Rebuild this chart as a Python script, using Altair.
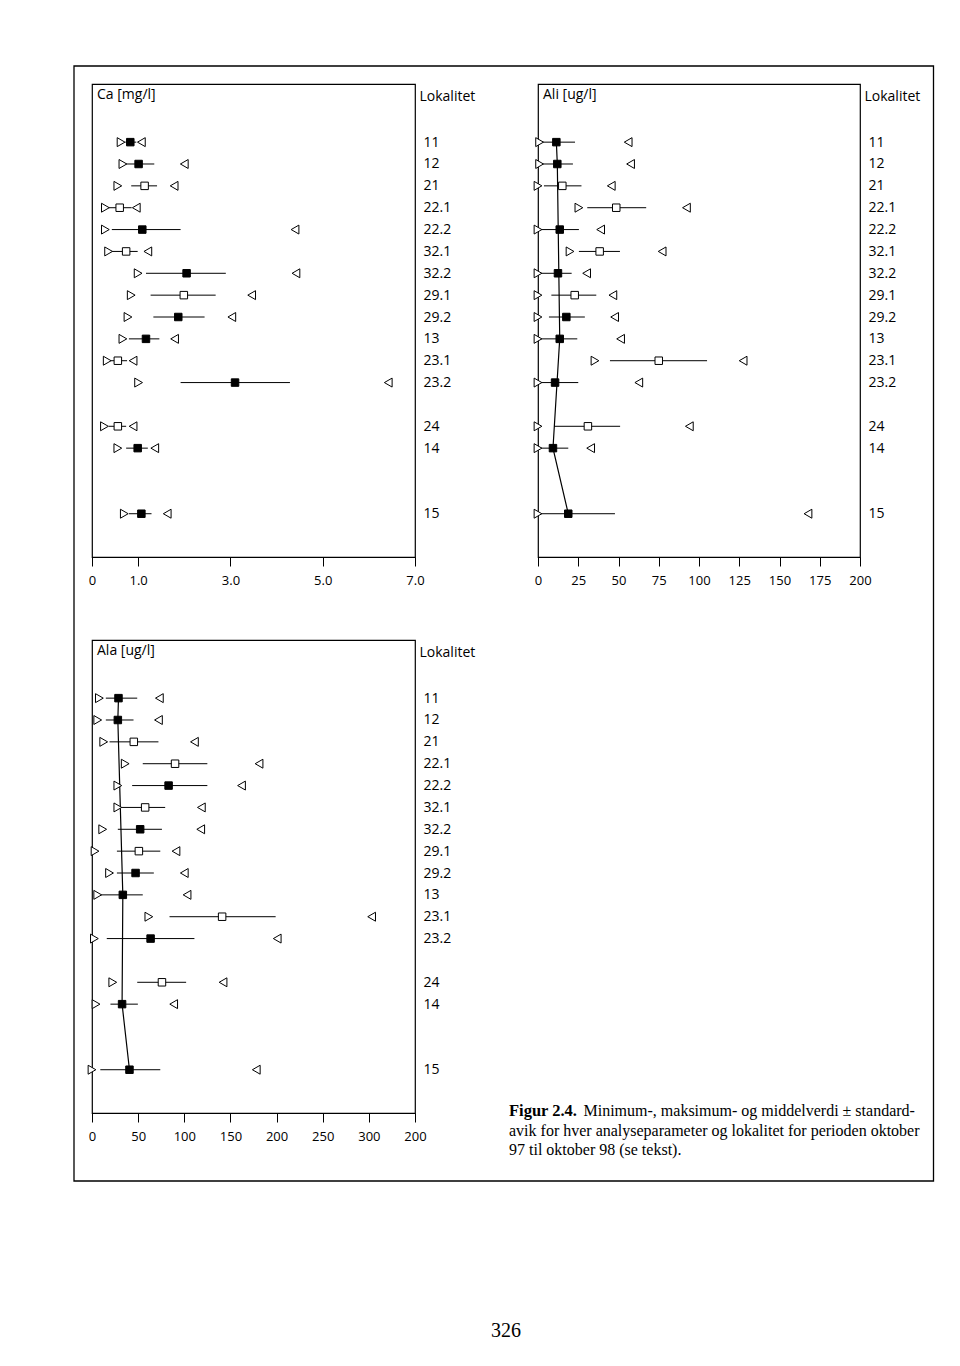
import altair as alt
import pandas as pd

# ---------------- data ----------------
localities = ['11', '12', '21', '22.1', '22.2', '32.1', '32.2', '29.1', '29.2',
              '13', '23.1', '23.2', '24', '14', '15']
row_pos = [0, 1, 2, 3, 4, 5, 6, 7, 8, 9, 10, 11, 13, 14, 17]
open_mean = ['21', '22.1', '32.1', '29.1', '23.1', '24']
main_stations = ['11', '12', '13', '14', '15']

# Ca [mg/l]
ca_min = [0.63, 0.67, 0.56, 0.29, 0.29, 0.36, 1.00, 0.85, 0.78, 0.67, 0.33, 1.01, 0.27, 0.56, 0.70]
ca_mean = [0.83, 1.01, 1.14, 0.60, 1.09, 0.74, 2.05, 1.99, 1.87, 1.17, 0.56, 3.10, 0.56, 0.99, 1.07]
ca_lo = [0.72, 0.70, 0.85, 0.36, 0.43, 0.40, 1.17, 1.27, 1.33, 0.80, 0.40, 1.92, 0.36, 0.74, 0.80]
ca_hi = [0.96, 1.35, 1.41, 0.86, 1.92, 0.99, 2.90, 2.68, 2.44, 1.46, 0.76, 4.29, 0.74, 1.21, 1.29]
ca_max = [1.07, 2.00, 1.78, 0.96, 4.40, 1.21, 4.42, 3.46, 3.03, 1.79, 0.89, 6.42, 0.89, 1.36, 1.63]
ca_ticks = [0, 1, 3, 5, 7]
ca_tick_labels = ['0', '1.0', '3.0', '5.0', '7.0']

# Ali [ug/l]
ali_min = [1, 1, 0, 25.4, 0, 19.9, 0, 0, 0, 0, 35.4, 0, 0, 0, 0]
ali_mean = [11.4, 12, 15.1, 48.6, 13.5, 38.3, 12.4, 22.8, 17.6, 13.5, 75, 10.6, 31, 9.3, 18.8]
ali_lo = [1, 1, 3.7, 30.6, 0, 25.4, 1, 8.3, 6.8, 0, 44.7, 1.7, 10, 1.7, 0.6]
ali_hi = [23, 21.7, 27, 67.2, 25.4, 50.9, 20.9, 36.2, 29.1, 24.4, 105, 25, 51, 18.8, 47.8]
ali_max = [56, 57.5, 45.5, 92.2, 38.9, 77.1, 30.2, 46.5, 47.6, 51.3, 127.4, 62.6, 94, 32.7, 167.7]
ali_ticks = [0, 25, 50, 75, 100, 125, 150, 175, 200]
ali_tick_labels = ['0', '25', '50', '75', '100', '125', '150', '175', '200']

# Ala [ug/l]
ala_min = [8, 6.2, 12.7, 36, 28, 28, 11.6, 3.3, 19, 6.2, 61.6, 2.6, 22.5, 4.4, 0]
ala_mean = [28.7, 28, 45.3, 90, 83, 57.6, 52.2, 50.8, 47.2, 33.4, 141, 63.5, 75.8, 32.6, 40.6]
ala_lo = [15, 15, 19, 55, 43.5, 31.5, 28, 27, 27, 9.8, 84, 16, 49, 20, 9]
ala_hi = [49, 45, 72, 125, 125, 79.3, 75.8, 74, 67, 55, 199, 111, 102, 49.7, 74]
ala_max = [73, 72, 111, 181, 162, 118.5, 117.8, 91, 100, 103, 303, 200.7, 142, 88.5, 178]
ala_ticks = [0, 50, 100, 150, 200, 250, 300, 350]
ala_tick_labels = ['0', '50', '100', '150', '200', '250', '300', '200']

caption_bold = 'Figur 2.4.'
caption_line1 = 'Minimum-, maksimum- og middelverdi ± standard-'
caption_line2 = 'avik for hver analyseparameter og lokalitet for perioden oktober'
caption_line3 = '97 til oktober 98 (se tekst).'
page_number = '326'

# ---------------- styling ----------------
SANS = 'Open Sans'
SERIF = 'Liberation Serif'
W, H = 323, 473
Y_DOMAIN = [-2.66, 18.98]


def js_list(items):
    return '[' + ','.join(repr(i) if isinstance(i, str) else str(i) for i in items) + ']'


def panel(title, mins, means, los, his, maxs, xdomain, xticks, xlabels, connect, width=W):
    df = pd.DataFrame({
        'loc': localities, 'row': row_pos, 'min': mins, 'mean': means,
        'lo': los, 'hi': his, 'max': maxs,
        'kind': ['open' if l in open_mean else 'filled' for l in localities],
    })
    xs = alt.Scale(domain=xdomain, nice=False, zero=False)
    ys = alt.Scale(domain=Y_DOMAIN, reverse=True, nice=False, zero=False)
    xaxis = alt.Axis(
        title=None, values=xticks, orient='bottom', grid=False, domain=False,
        ticks=True, tickSize=9, tickColor='black', tickWidth=1,
        labelExpr=f"{js_list(xlabels)}[indexof({js_list(xticks)}, datum.value)]",
        labelFont=SANS, labelFontSize=13, labelColor='black',
        labelBaseline='middle', labelPadding=14, labelFlush=False, labelOverlap=False,
    )
    yaxis = alt.Axis(
        title='Lokalitet', orient='right', values=row_pos, grid=False, domain=False,
        ticks=False, tickSize=0, labelPadding=8,
        labelExpr=f"{js_list(localities)}[indexof({js_list(row_pos)}, datum.value)]",
        labelFont=SANS, labelFontSize=14, labelColor='black', labelBaseline='middle',
        labelFlush=False, labelOverlap=False, labelAlign='left',
        titleAngle=0, titleAlign='left', titleBaseline='middle', titleX=4, titleY=12,
        titleFont=SANS, titleFontSize=14, titleFontWeight='normal', titleColor='black',
    )
    base = alt.Chart(df)
    Y = alt.Y('row:Q', scale=ys, axis=yaxis)

    rule = base.mark_rule(color='black', strokeWidth=1).encode(
        x=alt.X('lo:Q', scale=xs, axis=xaxis), x2='hi:Q', y=Y)
    layers = [rule]
    if connect:
        line = base.transform_filter(
            alt.FieldOneOfPredicate(field='loc', oneOf=main_stations)
        ).mark_line(color='black', strokeWidth=1.2).encode(
            x=alt.X('mean:Q', scale=xs, axis=xaxis), y=Y, order='row:Q')
        layers.append(line)
    tmin = base.mark_point(shape='triangle-right', size=80, fill='white', stroke='black',
                           strokeWidth=1, opacity=1).encode(
        x=alt.X('min:Q', scale=xs, axis=xaxis), y=Y)
    tmax = base.mark_point(shape='triangle-left', size=80, fill='white', stroke='black',
                           strokeWidth=1, opacity=1).encode(
        x=alt.X('max:Q', scale=xs, axis=xaxis), y=Y)
    sq = base.mark_point(shape='square', size=56, stroke='black', strokeWidth=1,
                         opacity=1, filled=True).encode(
        x=alt.X('mean:Q', scale=xs, axis=xaxis), y=Y,
        fill=alt.Fill('kind:N', scale=alt.Scale(domain=['filled', 'open'],
                                                 range=['black', 'white']), legend=None))
    ttl = alt.Chart(pd.DataFrame({'t': [title]})).mark_text(
        align='left', baseline='middle', font=SANS, fontSize=14, color='black'
    ).encode(x=alt.value(5), y=alt.value(11), text='t:N')
    layers += [tmin, tmax, sq, ttl]
    return alt.layer(*layers).properties(width=width, height=H)


ca = panel('Ca [mg/l]', ca_min, ca_mean, ca_lo, ca_hi, ca_max, [0, 7],
           ca_ticks, ca_tick_labels, connect=False)
ali = panel('Ali [ug/l]', ali_min, ali_mean, ali_lo, ali_hi, ali_max, [0, 200],
            ali_ticks, ali_tick_labels, connect=True, width=322)
ala = panel('Ala [ug/l]', ala_min, ala_mean, ala_lo, ala_hi, ala_max, [0, 350],
            ala_ticks, ala_tick_labels, connect=True)

# caption cell (positioned relative to its own cell origin)
one = pd.DataFrame({'t': [0]})


def ctext(txt, x, y, size=16, weight='normal', align='left'):
    return alt.Chart(pd.DataFrame({'t': [txt]})).mark_text(
        align=align, baseline='alphabetic', font=SERIF, fontSize=size,
        fontWeight=weight, color='black'
    ).encode(x=alt.value(x), y=alt.value(y), text='t:N')


frame = alt.Chart(one).mark_rect(fillOpacity=0, stroke='black', strokeWidth=1.3).encode(
    x=alt.value(-464), y=alt.value(-574), x2=alt.value(395.5), y2=alt.value(541))

cap = alt.layer(
    frame,
    ctext(caption_bold, -29, 475.5, size=16.5, weight='bold'),
    ctext(caption_line1, 45.5, 475.5),
    ctext(caption_line2, -29, 495.5),
    ctext(caption_line3, -29, 515),
    ctext(page_number, -32, 697, size=20, align='center'),
).properties(width=322, height=H, view=alt.ViewBackground(strokeWidth=0, stroke='transparent'))

chart = alt.concat(
    ca, ali, ala, cap, columns=2,
    spacing={'row': 83, 'column': 123},
    bounds='flush',
    padding={'left': 65, 'top': 57, 'right': 5, 'bottom': 5},
).configure(background='white').configure_view(stroke='black', strokeWidth=1.2)

chart.save('out.html', embed_options={'renderer': 'svg', 'actions': False})
